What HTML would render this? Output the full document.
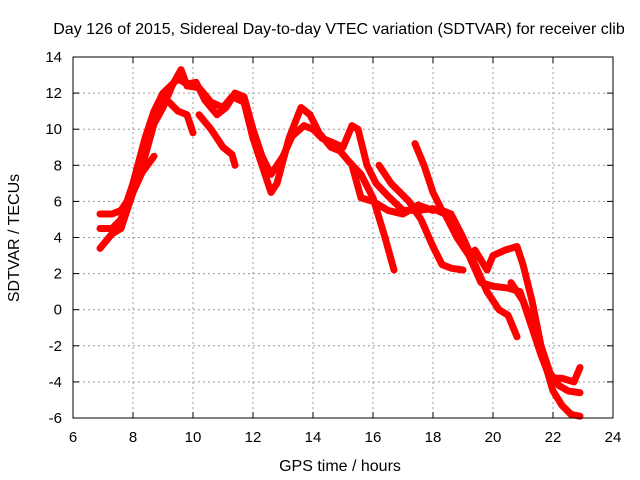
<!DOCTYPE html>
<html><head><meta charset="utf-8"><style>
body{margin:0;background:#fff}
svg{display:block;font-family:"Liberation Sans",sans-serif}
</style></head><body>
<svg id="chart" width="640" height="480">
<rect width="640" height="480" fill="#fff"/>
<text x="339" y="34" font-size="16" text-anchor="middle">Day 126 of 2015, Sidereal Day-to-day VTEC variation (SDTVAR) for receiver clib</text>
<text x="340" y="471" font-size="16" text-anchor="middle">GPS time / hours</text>
<text transform="translate(19,238) rotate(-90)" font-size="16" text-anchor="middle">SDTVAR / TECUs</text>
<g id="grid"></g><g id="series"></g><g id="axes"></g>
</svg>
<script>
const xTicks=[6,8,10,12,14,16,18,20,22,24];
const yTicks=[-6,-4,-2,0,2,4,6,8,10,12,14];
const traceA=[[6.9,5.3],[7.3,5.3],[7.6,5.5],[8.0,6.5],[8.4,8.5],[8.7,10.3],[9.0,11.2],[9.3,12.4],[9.6,13.3],[9.8,12.4],[10.2,12.3],[10.6,11.5],[11.0,11.2],[11.3,11.8],[11.7,11.5],[12.0,9.5],[12.4,7.5],[12.6,6.5],[12.8,7.0],[13.2,9.5],[13.6,11.2],[13.9,10.8],[14.2,9.8],[14.6,9.0],[14.9,8.8],[15.2,8.2],[15.6,7.5],[16.0,6.2],[16.4,4.0],[16.7,2.2]];
const traceB=[[6.9,4.5],[7.3,4.5],[7.6,5.0],[8.0,7.0],[8.4,9.5],[8.7,11.0],[9.0,12.0],[9.5,12.8],[9.8,12.5],[10.1,12.6],[10.4,11.6],[10.8,10.8],[11.1,11.2],[11.4,12.0],[11.7,11.8],[12.0,10.0],[12.3,8.5],[12.6,7.5],[13.0,8.5],[13.3,9.6],[13.7,10.2],[14.0,10.0],[14.3,9.5],[14.6,9.3],[15.0,9.0],[15.3,10.2],[15.5,10.0],[15.8,8.0],[16.1,7.0],[16.5,6.3],[17.0,5.5],[17.5,5.5],[18.0,5.6],[18.4,5.3],[18.8,4.0],[19.2,3.0],[19.6,1.5],[20.0,1.3],[20.5,1.2],[20.9,1.0],[21.2,-0.5],[21.6,-2.5],[21.9,-3.8],[22.3,-3.8],[22.7,-4.0],[22.9,-3.2]];
const traceC=[[6.9,3.4],[7.3,4.2],[7.6,4.5],[8.0,6.5],[8.3,7.6],[8.7,8.5]];
const traceD=[[9.2,11.5],[9.5,11.0],[9.8,10.8],[10.0,9.8]];
const traceE=[[10.2,10.8],[10.6,10.0],[11.0,9.0],[11.3,8.6],[11.4,8.0]];
const traceF=[[15.3,8.0],[15.6,6.2],[16.0,6.0],[16.5,5.5],[17.0,5.3],[17.5,5.8],[18.0,5.5]];
const traceF2=[[16.2,8.0],[16.6,7.0],[17.2,6.0],[17.6,5.0],[18.0,3.5],[18.3,2.5],[18.6,2.3],[19.0,2.2]];
const traceG=[[17.4,9.2],[17.7,8.0],[18.0,6.5],[18.3,5.5],[18.6,5.3],[19.0,4.0],[19.4,2.5],[19.8,1.0],[20.2,0.0],[20.5,-0.3],[20.8,-1.5]];
const traceH=[[19.4,3.3],[19.8,2.2],[20.0,3.0],[20.4,3.3],[20.8,3.5],[21.0,2.5],[21.3,0.5],[21.6,-2.0],[21.9,-3.5],[22.2,-4.2],[22.5,-4.5],[22.9,-4.6]];
const traceI=[[20.6,1.5],[21.0,0.5],[21.4,-1.2],[21.7,-2.8],[22.0,-4.5],[22.3,-5.3],[22.6,-5.8],[22.9,-5.9]];
const traces=[traceA,traceB,traceC,traceD,traceE,traceF,traceF2,traceG,traceH,traceI];

const L=73,R=613,T=57,B=418,ns="http://www.w3.org/2000/svg";
const sx=v=>L+(v-6)/18*(R-L), sy=v=>B-(v+6)/20*(B-T);
function mk(tag,attrs,parent){const e=document.createElementNS(ns,tag);for(const k in attrs)e.setAttribute(k,attrs[k]);document.getElementById(parent).appendChild(e);return e;}
xTicks.forEach(t=>{
  if(t>6&&t<24){const g=mk('line',{x1:sx(t),x2:sx(t),y1:T,y2:B,stroke:'#999','stroke-dasharray':'2,3'},'grid');
  
  }
  const tk=mk('line',{x1:sx(t),x2:sx(t),y1:B,y2:B-6,stroke:'#000'},'axes');
  
  
  const tk2=mk('line',{x1:sx(t),x2:sx(t),y1:T,y2:T+6,stroke:'#000'},'axes');
  
  
  const lb=mk('text',{x:sx(t),y:B+24,'font-size':15,'text-anchor':'middle'},'axes');lb.textContent=t;
  
  
});
yTicks.forEach(t=>{
  if(t>-6&&t<14){const g=mk('line',{x1:L,x2:R,y1:sy(t),y2:sy(t),stroke:'#999','stroke-dasharray':'2,3'},'grid');
  
  }
  const tk=mk('line',{x1:L,x2:L+6,y1:sy(t),y2:sy(t),stroke:'#000'},'axes');
  
  
  const tk2=mk('line',{x1:R,x2:R-6,y1:sy(t),y2:sy(t),stroke:'#000'},'axes');
  
  
  const lb=mk('text',{x:L-11,y:sy(t)+5,'font-size':15,'text-anchor':'end'},'axes');lb.textContent=t;
  
  
});
const fr=mk('rect',{x:L,y:T,width:R-L,height:B-T,fill:'none',stroke:'#000'},'axes');


traces.forEach(tr=>{
  const p=mk('polyline',{points:tr.map(d=>sx(d[0])+','+sy(d[1])).join(' '),fill:'none',stroke:'#f00','stroke-width':7,'stroke-linejoin':'round','stroke-linecap':'round'},'series');
  
  
});
</script>
</body></html>
